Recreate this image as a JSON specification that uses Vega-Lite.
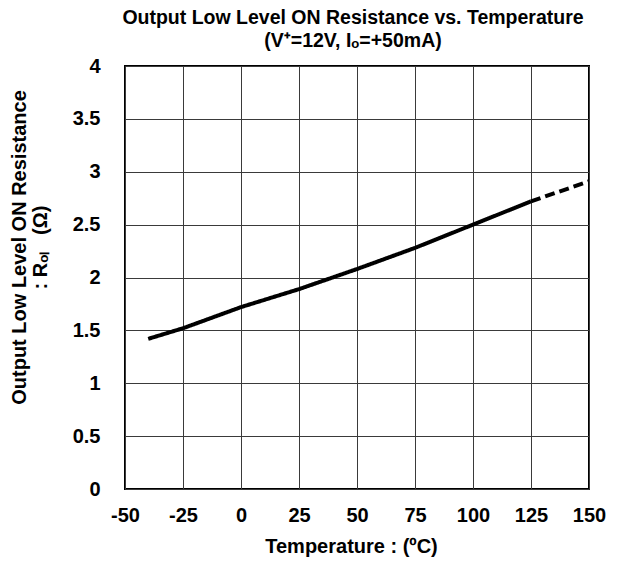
{
  "$schema": "https://vega.github.io/schema/vega-lite/v6.json",
  "width": 464,
  "height": 423,
  "autosize": "none",
  "padding": {"left": 125, "top": 66, "right": 52, "bottom": 73},
  "background": "white",
  "title": {
    "text": ["Output Low Level ON Resistance vs. Temperature", "(V⁺=12V, Iₒ=+50mA)"],
    "font": "Liberation Sans",
    "fontSize": 19.5,
    "fontWeight": "bold",
    "color": "black",
    "anchor": "middle",
    "frame": "group",
    "dx": -4,
    "offset": 5,
    "lineHeight": 23
  },
  "config": {
    "view": {"stroke": "black", "strokeWidth": 2},
    "axis": {
      "labelFont": "Liberation Sans",
      "labelFontSize": 20,
      "labelFontWeight": "bold",
      "labelColor": "black",
      "labelFlush": false,
      "labelOverlap": false,
      "titleFont": "Liberation Sans",
      "titleFontSize": 20,
      "titleFontWeight": "bold",
      "titleColor": "black",
      "grid": true,
      "gridColor": "#3a3a3a",
      "gridWidth": 1,
      "gridOpacity": 1,
      "domain": false,
      "ticks": false
    }
  },
  "data": {
    "values": [
      {"t": -40, "r": 1.42, "seg": "measured"},
      {"t": -25, "r": 1.52, "seg": "measured"},
      {"t": 0, "r": 1.72, "seg": "measured"},
      {"t": 25, "r": 1.89, "seg": "measured"},
      {"t": 50, "r": 2.08, "seg": "measured"},
      {"t": 75, "r": 2.28, "seg": "measured"},
      {"t": 100, "r": 2.5, "seg": "measured"},
      {"t": 125, "r": 2.72, "seg": "measured"},
      {"t": 125, "r": 2.72, "seg": "extrapolated"},
      {"t": 150, "r": 2.91, "seg": "extrapolated"}
    ]
  },
  "mark": {"type": "line", "color": "black", "strokeWidth": 4, "strokeCap": "butt", "clip": true},
  "encoding": {
    "x": {
      "field": "t",
      "type": "quantitative",
      "scale": {"domain": [-50, 150], "nice": false},
      "axis": {"values": [-50, -25, 0, 25, 50, 75, 100, 125, 150], "labelExpr": "toString(datum.value)", "labelPadding": 16, "title": "Temperature : (ºC)", "titlePadding": 11, "titleX": 226}
    },
    "y": {
      "field": "r",
      "type": "quantitative",
      "scale": {"domain": [0, 4], "nice": false},
      "axis": {"values": [0, 0.5, 1, 1.5, 2, 2.5, 3, 3.5, 4], "labelExpr": "toString(datum.value)", "labelPadding": 25, "title": ["Output Low Level ON Resistance", ": Rₒₗ\u00a0\u00a0\u00a0(Ω)"], "titleY": 181, "titleX": -96, "titleLineHeight": 21}
    },
    "strokeDash": {
      "field": "seg",
      "type": "nominal",
      "scale": {"domain": ["measured", "extrapolated"], "range": [[1, 0], [10, 5]]},
      "legend": null
    }
  }
}
